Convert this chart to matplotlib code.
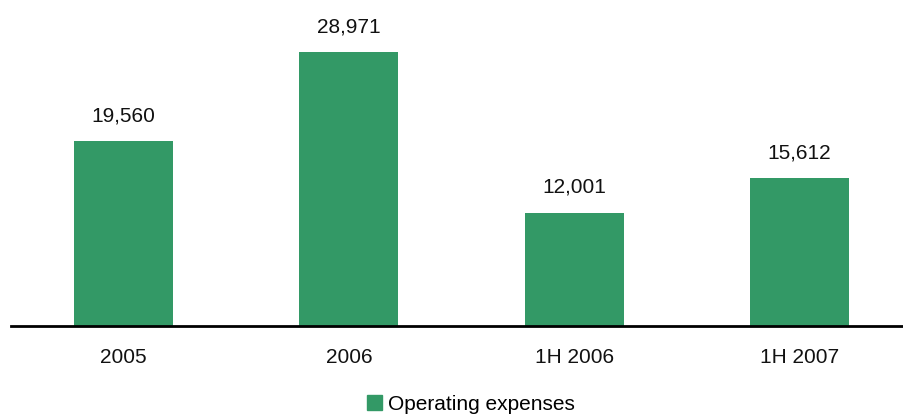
import matplotlib.pyplot as plt
from matplotlib.patches import Patch

categories = ["2005", "2006", "1H 2006", "1H 2007"]
opex = [19560, 28971, 12001, 15612]
series_name = "Operating expenses"

GREEN = "#339966"
FS = 15

plt.rcParams["font.family"] = ["Liberation Sans", "DejaVu Sans"]

fig = plt.figure(figsize=(9.04, 4.16), dpi=100)
ax = fig.add_axes([11 / 904, 90 / 416, 893 / 904, 326 / 416])

xs = range(len(categories))
ax.bar(xs, opex, width=0.44, color=GREEN, zorder=2)
for x, v in zip(xs, opex):
    ax.annotate(f"{v:,}", (x, v), xytext=(0, 14.4), textcoords="offset points",
                ha="center", va="baseline", fontsize=FS, color="#111111")

ax.set_xlim(-0.5, 3.464)
ax.set_ylim(0, 34500)
ax.set_xticks(list(xs))
ax.set_xticklabels(categories, fontsize=FS, color="#111111")
ax.tick_params(axis="x", length=0, pad=16)
ax.set_yticks([])
for side in ("top", "right", "left"):
    ax.spines[side].set_visible(False)
ax.spines["bottom"].set_linewidth(2)
ax.spines["bottom"].set_color("black")

fig.legend(handles=[Patch(color=GREEN, label=series_name)], loc="center",
           bbox_to_anchor=(471 / 904, 1 - 404 / 416), frameon=False,
           fontsize=FS, handlelength=0.72, handleheight=0.72, handletextpad=0.3)

fig.savefig("out.png", dpi=100)
